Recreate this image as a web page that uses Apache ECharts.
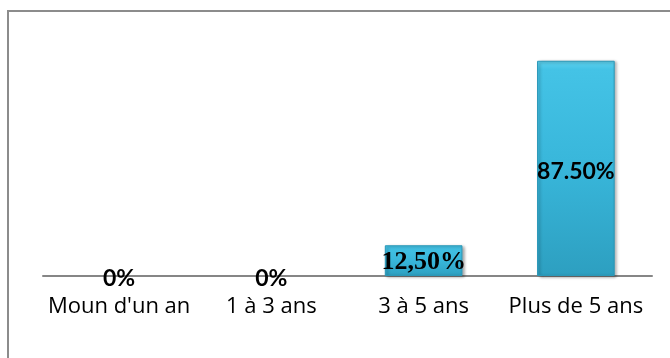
<!DOCTYPE html>
<html>
<head>
<meta charset="utf-8">
<style>
  html, body { margin: 0; padding: 0; background: #ffffff; }
  #chart { width: 670px; height: 358px; }
</style>
<script src="https://cdn.jsdelivr.net/npm/echarts@6/dist/echarts.min.js"></script>
</head>
<body>
<div id="chart"></div>
<script>
// Durée (ancienneté) par tranche
const categories = ["Moun d'un an", "1 à 3 ans", "3 à 5 ans", "Plus de 5 ans"];
const values = [0, 0, 12.5, 87.5];
const valueLabels = ["0%", "0%", "12,50%", "87.50%"];

const chart = echarts.init(document.getElementById('chart'), null, { renderer: 'canvas' });

function barFill() {
  return new echarts.graphic.LinearGradient(0, 0, 0, 1, [
    { offset: 0, color: '#5fd2ee' },
    { offset: 0.04, color: '#44c3e6' },
    { offset: 0.5, color: '#38b6da' },
    { offset: 1, color: '#2d9fc0' }
  ]);
}

function itemFor(v, i) {
  if (v === 0) {
    return {
      value: v,
      itemStyle: { color: 'transparent', borderWidth: 0, shadowBlur: 0 },
      label: {
        show: true, position: 'inside', offset: [0, 3],
        formatter: valueLabels[i],
        fontFamily: 'Lato', fontWeight: 'bold', fontSize: 23, color: '#000'
      }
    };
  }
  if (i === 2) {
    return {
      value: v,
      label: {
        show: true, position: 'inside', offset: [0, 2],
        formatter: valueLabels[i],
        fontFamily: 'Liberation Serif', fontWeight: 'bold', fontSize: 26, color: '#000'
      }
    };
  }
  return {
    value: v,
    label: {
      show: true, position: 'inside', offset: [0, 3],
      formatter: valueLabels[i],
      fontFamily: 'Lato', fontWeight: 'bold', fontSize: 23, color: '#000'
    }
  };
}

chart.setOption({
  animation: false,
  grid: { left: 43, right: 18, top: 30, bottom: 82 },
  graphic: [{
    type: 'rect',
    shape: { x: 8, y: 11, width: 700, height: 400 },
    style: { fill: 'none', stroke: '#8c8c8c', lineWidth: 2 },
    silent: true
  }],
  xAxis: {
    type: 'category',
    data: categories,
    axisLine: { lineStyle: { color: '#868686', width: 2 } },
    axisTick: { show: false },
    axisLabel: {
      interval: 0,
      color: '#000', fontFamily: 'Open Sans', fontSize: 22, margin: 20
    }
  },
  yAxis: {
    type: 'value', min: 0, max: 100,
    show: false,
    splitLine: { show: false }
  },
  series: [{
    type: 'bar',
    barWidth: '51%',
    data: values.map(itemFor),
    itemStyle: {
      color: barFill(),
      borderColor: '#2a98b8',
      borderWidth: 1,
      shadowColor: 'rgba(0,0,0,0.35)',
      shadowBlur: 3,
      shadowOffsetX: 2,
      shadowOffsetY: 1
    }
  }]
});
</script>
</body>
</html>
